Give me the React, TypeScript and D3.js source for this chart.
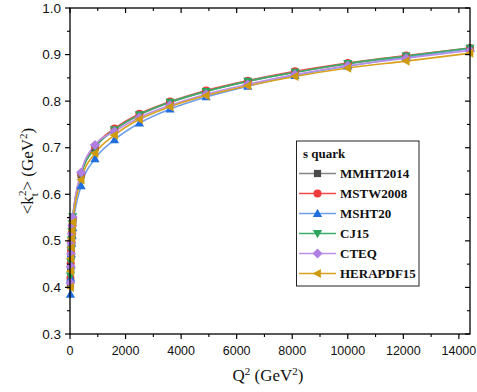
import React from "react";
import * as d3 from "d3";

// Q^2 values (GeV^2) at which <k_t^2> is evaluated
const q2Values = [16, 25, 36, 49, 64, 81, 100, 400, 900, 1600, 2500, 3600, 4900, 6400, 8100, 10000, 12100, 14400];

// <k_t^2> (GeV^2) for the s quark, per PDF set
const mmht2014 = [0.405, 0.44, 0.468, 0.49, 0.51, 0.527, 0.543, 0.642, 0.7, 0.738, 0.77, 0.797, 0.821, 0.842, 0.862, 0.88, 0.896, 0.913];
const mstw2008 = [0.42, 0.452, 0.478, 0.499, 0.517, 0.533, 0.548, 0.644, 0.703, 0.741, 0.773, 0.799, 0.823, 0.844, 0.864, 0.882, 0.898, 0.914];
const msht20 = [0.385, 0.42, 0.448, 0.472, 0.495, 0.512, 0.528, 0.618, 0.676, 0.717, 0.753, 0.783, 0.809, 0.832, 0.855, 0.875, 0.894, 0.913];
const cj15 = [0.425, 0.455, 0.48, 0.502, 0.52, 0.537, 0.552, 0.641, 0.7, 0.739, 0.771, 0.798, 0.821, 0.843, 0.862, 0.881, 0.897, 0.914];
const cteq = [0.41, 0.445, 0.472, 0.495, 0.515, 0.533, 0.55, 0.647, 0.706, 0.735, 0.765, 0.791, 0.815, 0.836, 0.857, 0.876, 0.892, 0.909];
const herapdf15 = [0.4, 0.435, 0.462, 0.486, 0.505, 0.522, 0.54, 0.631, 0.688, 0.727, 0.761, 0.788, 0.812, 0.833, 0.853, 0.871, 0.886, 0.903];

const seriesNames = ["MMHT2014", "MSTW2008", "MSHT20", "CJ15", "CTEQ", "HERAPDF15"];
const seriesValues = [mmht2014, mstw2008, msht20, cj15, cteq, herapdf15];
const lineColors = ["#858585", "#f04a4a", "#6f9fe8", "#3cae6a", "#bb8fe6", "#d9a21c"];
const markerColors = ["#4a4a4a", "#ee3b3b", "#1f6fe0", "#2ea35c", "#b07ee0", "#cf9a0c"];
const markerShapes = ["square", "circle", "triangleUp", "triangleDown", "diamond", "triangleLeft"];

const xTicks = [0, 2000, 4000, 6000, 8000, 10000, 12000, 14000];
const xMinorTicks = [1000, 3000, 5000, 7000, 9000, 11000, 13000];
const yTicks = [0.3, 0.4, 0.5, 0.6, 0.7, 0.8, 0.9, 1.0];
const yMinorTicks = [0.35, 0.45, 0.55, 0.65, 0.75, 0.85, 0.95];

const W = 477;
const H = 392;
const left = 70;
const right = 470;
const top = 8;
const bottom = 334;

function Marker({ shape, x, y, color }: { shape: string; x: number; y: number; color: string }) {
  const r = 4;
  if (shape === "square") return <rect x={x - 3.6} y={y - 3.6} width={7.2} height={7.2} fill={color} />;
  if (shape === "circle") return <circle cx={x} cy={y} r={r} fill={color} />;
  let pts: [number, number][] = [];
  if (shape === "triangleUp") pts = [[x, y - 4.8], [x + 4.6, y + 3.4], [x - 4.6, y + 3.4]];
  if (shape === "triangleDown") pts = [[x, y + 4.8], [x + 4.6, y - 3.4], [x - 4.6, y - 3.4]];
  if (shape === "triangleLeft") pts = [[x - 4.8, y], [x + 3.4, y - 4.6], [x + 3.4, y + 4.6]];
  if (shape === "diamond") pts = [[x, y - 5], [x + 5, y], [x, y + 5], [x - 5, y]];
  return <polygon points={pts.map((p) => p.join(",")).join(" ")} fill={color} />;
}

export default function App() {
  const x = d3.scaleLinear().domain([0, 14400]).range([left, right]);
  const y = d3.scaleLinear().domain([0.3, 1.0]).range([bottom, top]);
  const line = d3
    .line<number>()
    .x((_, i) => x(q2Values[i]))
    .y((d) => y(d))
    .curve(d3.curveMonotoneX);

  const legendX = 296.5;
  const legendY = 141;
  const rowY = (i: number) => 173.5 + i * 20;

  return (
    <svg
      width={W}
      height={H}
      style={{ position: "absolute", left: 0, top: 0, background: "#fff" }}
      fontFamily="'Liberation Sans', Arial, sans-serif"
    >
      <rect width={W} height={H} fill="#fff" />
      <defs>
        <clipPath id="plot-area">
          <rect x={left - 6} y={top} width={right - left + 12} height={bottom - top + 6} />
        </clipPath>
      </defs>

      {/* series */}
      <g clipPath="url(#plot-area)">
        {seriesValues.map((vals, s) => (
          <path key={"l" + s} d={line(vals) || ""} fill="none" stroke={lineColors[s]} strokeWidth={1.6} />
        ))}
        {seriesValues.map((vals, s) => (
          <g key={"m" + s}>
            {vals.map((v, i) => (
              <Marker key={i} shape={markerShapes[s]} x={x(q2Values[i])} y={y(v)} color={markerColors[s]} />
            ))}
          </g>
        ))}
      </g>

      {/* frame */}
      <rect x={left} y={top} width={right - left} height={bottom - top} fill="none" stroke="#000" strokeWidth={1.3} />

      {/* x axis ticks */}
      {xTicks.map((t) => (
        <g key={"xt" + t}>
          <line x1={x(t)} x2={x(t)} y1={bottom} y2={bottom + 5} stroke="#000" strokeWidth={1.2} />
          <line x1={x(t)} x2={x(t)} y1={top} y2={top + 5} stroke="#000" strokeWidth={1.2} />
          <text x={x(t)} y={355} fontSize={12.5} textAnchor="middle" fill="#111">
            {t}
          </text>
        </g>
      ))}
      {xMinorTicks.map((t) => (
        <g key={"xm" + t}>
          <line x1={x(t)} x2={x(t)} y1={bottom} y2={bottom + 3} stroke="#000" strokeWidth={1.1} />
          <line x1={x(t)} x2={x(t)} y1={top} y2={top + 3} stroke="#000" strokeWidth={1.1} />
        </g>
      ))}

      {/* y axis ticks */}
      {yTicks.map((t) => (
        <g key={"yt" + t}>
          <line x1={left - 5} x2={left} y1={y(t)} y2={y(t)} stroke="#000" strokeWidth={1.2} />
          <line x1={right - 5} x2={right} y1={y(t)} y2={y(t)} stroke="#000" strokeWidth={1.2} />
          <text x={61} y={y(t) + 4.6} fontSize={13.5} textAnchor="end" fill="#111">
            {t.toFixed(1)}
          </text>
        </g>
      ))}
      {yMinorTicks.map((t) => (
        <g key={"ym" + t}>
          <line x1={left - 3} x2={left} y1={y(t)} y2={y(t)} stroke="#000" strokeWidth={1.1} />
          <line x1={right - 3} x2={right} y1={y(t)} y2={y(t)} stroke="#000" strokeWidth={1.1} />
        </g>
      ))}

      {/* axis titles */}
      <text
        x={268}
        y={381}
        fontSize={17}
        textAnchor="middle"
        fontFamily="'Liberation Serif', 'Times New Roman', serif"
        fill="#111"
      >
        Q<tspan dy={-6} fontSize={11}>2</tspan>
        <tspan dy={6}> (GeV</tspan>
        <tspan dy={-6} fontSize={11}>2</tspan>
        <tspan dy={6}>)</tspan>
      </text>
      <text
        transform={`translate(33,${171}) rotate(-90)`}
        fontSize={17}
        textAnchor="middle"
        fontFamily="'Liberation Serif', 'Times New Roman', serif"
        fill="#111"
      >
        &lt;k<tspan dy={5} fontSize={11}>t</tspan>
        <tspan dy={-12} dx={-3} fontSize={11}>2</tspan>
        <tspan dy={7}>&gt; (GeV</tspan>
        <tspan dy={-6} fontSize={11}>2</tspan>
        <tspan dy={6}>)</tspan>
      </text>

      {/* legend */}
      <g fontFamily="'Liberation Serif', 'Times New Roman', serif" fontWeight="bold">
        <rect x={legendX} y={legendY} width={122.5} height={145} fill="#fff" stroke="#222" strokeWidth={1} />
        <text x={303} y={158} fontSize={13} fill="#111">
          s quark
        </text>
        {seriesNames.map((name, i) => (
          <g key={name}>
            <line x1={299} x2={336} y1={rowY(i)} y2={rowY(i)} stroke={lineColors[i]} strokeWidth={1.6} />
            <Marker shape={markerShapes[i]} x={317.5} y={rowY(i)} color={markerColors[i]} />
            <text x={340} y={rowY(i) + 4.5} fontSize={13} fill="#111">
              {name}
            </text>
          </g>
        ))}
      </g>
    </svg>
  );
}
